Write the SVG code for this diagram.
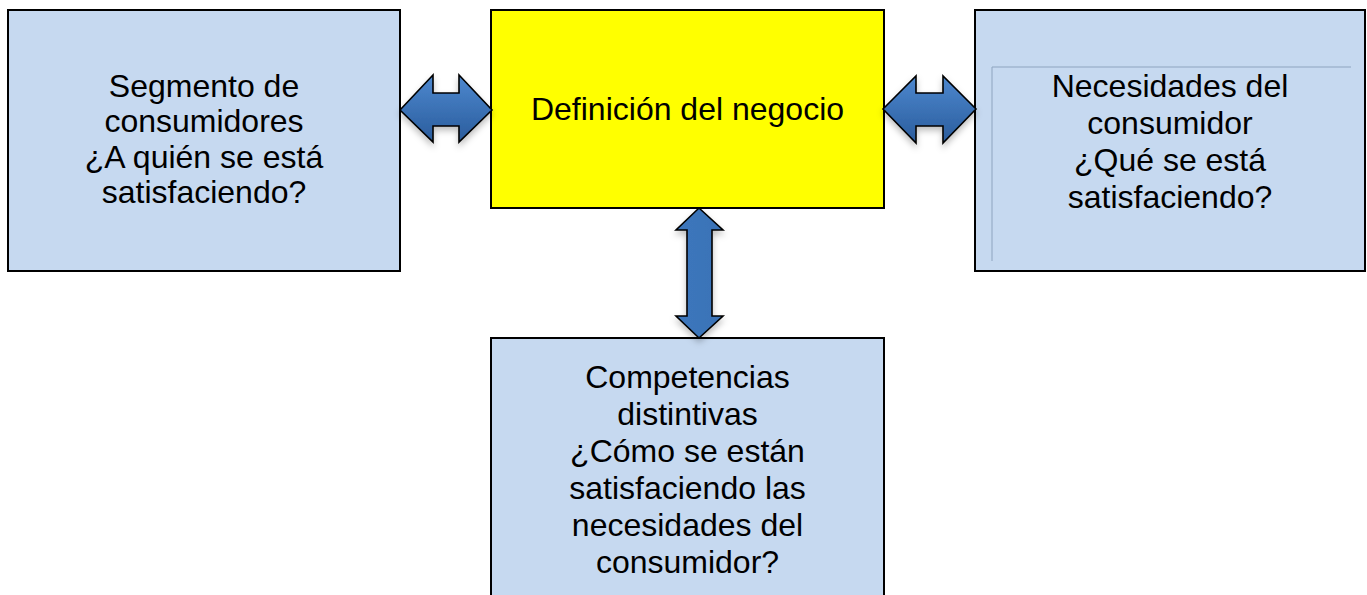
<svg xmlns="http://www.w3.org/2000/svg" width="1367" height="595" viewBox="0 0 1367 595">
<style>
.box{fill:#c6d9f0;stroke:#000;stroke-width:2}
.core{fill:#ffff00;stroke:#000;stroke-width:2}
.t{font-family:"Liberation Sans",Arial,sans-serif;font-size:32px;fill:#000;text-anchor:middle}
.arr{fill:url(#gh);stroke:#000;stroke-width:1.6;stroke-linejoin:miter;filter:url(#sh)}
.arrv{fill:url(#gv);stroke:#000;stroke-width:1.6;stroke-linejoin:miter;filter:url(#sh)}
.inner{fill:none;stroke:#8ea4bf;stroke-width:1}
</style>
<defs>
<linearGradient id="gh" x1="0" y1="0" x2="0" y2="1">
<stop offset="0" stop-color="#4d88cf"/>
<stop offset="1" stop-color="#2a5c9c"/>
</linearGradient>
<linearGradient id="gv" x1="0" y1="0" x2="1" y2="0">
<stop offset="0" stop-color="#3c77bd"/>
<stop offset="1" stop-color="#3a72b6"/>
</linearGradient>
<filter id="sh" x="-20%" y="-20%" width="140%" height="150%">
<feDropShadow dx="0" dy="4" stdDeviation="3" flood-color="#000" flood-opacity="0.25"/>
</filter>
</defs>
<g id="node-segmento">
<rect class="box" x="8" y="10" width="392" height="261"/>
<text class="t" x="204" y="97">Segmento de</text>
<text class="t" x="204" y="132">consumidores</text>
<text class="t" x="204" y="168">¿A quién se está</text>
<text class="t" x="204" y="203">satisfaciendo?</text>
</g>
<g id="node-definicion">
<rect class="core" x="491" y="10" width="393" height="198"/>
<text class="t" x="687.5" y="120">Definición del negocio</text>
</g>
<g id="node-necesidades">
<rect class="box" x="975" y="10" width="390" height="261"/>
<polyline class="inner" points="992,261 992,67 1351,67"/>
<text class="t" x="1170" y="97">Necesidades del</text>
<text class="t" x="1170" y="134">consumidor</text>
<text class="t" x="1170" y="171">¿Qué se está</text>
<text class="t" x="1170" y="208">satisfaciendo?</text>
</g>
<g id="node-competencias">
<rect class="box" x="491" y="338" width="393" height="262"/>
<text class="t" x="687.5" y="388">Competencias</text>
<text class="t" x="687.5" y="425">distintivas</text>
<text class="t" x="687.5" y="462">¿Cómo se están</text>
<text class="t" x="687.5" y="499">satisfaciendo las</text>
<text class="t" x="687.5" y="536">necesidades del</text>
<text class="t" x="687.5" y="573">consumidor?</text>
</g>
<g id="connectors">
<polygon class="arr" points="400,110 433,75 433,93 459,93 459,75 492,110 459,142 459,126 433,126 433,142"/>
<polygon class="arr" points="883,109 916,76 916,93 943,93 943,76 976,109 943,143 943,126 916,126 916,143"/>
<polygon class="arrv" points="699,208 723,230 712,230 712,316 723,316 699,338 676,316 687,316 687,230 676,230"/>
</g>
</svg>
